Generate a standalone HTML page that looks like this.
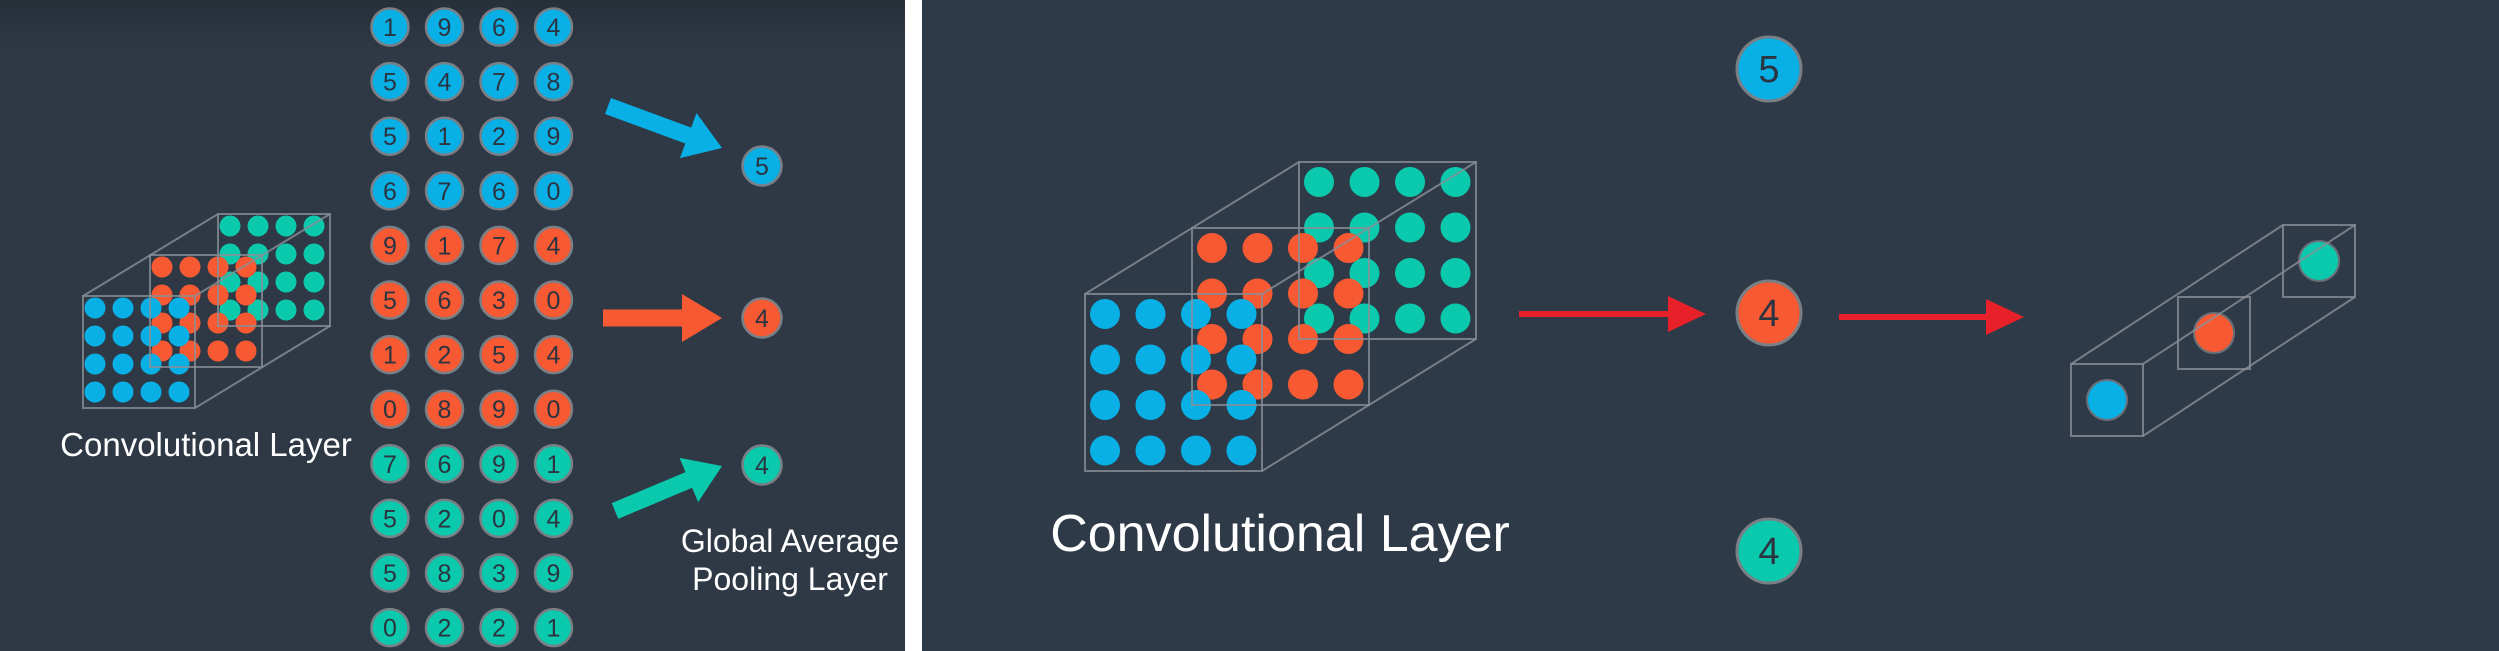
<!DOCTYPE html>
<html><head><meta charset="utf-8">
<style>
html,body{margin:0;padding:0;background:#fff;}
svg{display:block;}
text{font-family:"Liberation Sans","DejaVu Sans",sans-serif;}
</style></head>
<body>
<svg id="s" width="2499" height="651" viewBox="0 0 2499 651">
<defs>
<linearGradient id="lg" x1="0" y1="0" x2="0" y2="1">
<stop offset="0" stop-color="#272f39"/><stop offset="0.08" stop-color="#2e3945"/><stop offset="1" stop-color="#2e3945"/>
</linearGradient>
</defs>
<rect x="0" y="0" width="905" height="651" fill="url(#lg)"/>
<rect x="922" y="0" width="1577" height="651" fill="#2f3a48"/>
<g id="left"></g>
<g id="right"></g>
</svg>
<script>
const gridValues = [
 [1,9,6,4],[5,4,7,8],[5,1,2,9],[6,7,6,0],
 [9,1,7,4],[5,6,3,0],[1,2,5,4],[0,8,9,0],
 [7,6,9,1],[5,2,0,4],[5,8,3,9],[0,2,2,1]
];
const pooledValues = [5,4,4];
const channelColors = ["#08b0e6","#f75a33","#0bc9ad"];
const NS="http://www.w3.org/2000/svg";
function mk(tag, attrs, parent){const e=document.createElementNS(NS,tag);for(const k in attrs)e.setAttribute(k,attrs[k]);parent.appendChild(e);return e;}
const L=document.getElementById('left'), R=document.getElementById('right');

const colX = i => 390 + i*54.5;
const rowY = j => 27 + j*54.6;
gridValues.forEach((row,j)=>{
  row.forEach((v,i)=>{
    const c=mk('circle',{cx:colX(i),cy:rowY(j),r:18.5,fill:channelColors[Math.floor(j/4)],stroke:'#7a7f86','stroke-width':2.5},L);
    
    
    const t=mk('text',{x:colX(i),y:rowY(j)+9,'text-anchor':'middle','font-size':25,fill:'#2b3440'},L);
    t.textContent=v;
    
    
  });
});
const poolY=[166,318,465];
pooledValues.forEach((v,k)=>{
  const c=mk('circle',{cx:762,cy:poolY[k],r:19.5,fill:channelColors[k],stroke:'#7a7f86','stroke-width':2.5},L);
  
  
  const t=mk('text',{x:762,y:poolY[k]+9,'text-anchor':'middle','font-size':25,fill:'#2b3440'},L);
  t.textContent=v;
  
  
});
function fatArrow(x1,y1,x2,y2,w,hw,hl,color,parent,name){
  const a=Math.atan2(y2-y1,x2-x1),len=Math.hypot(x2-x1,y2-y1);
  const g=mk('g',{transform:`translate(${x1},${y1}) rotate(${a*180/Math.PI})`},parent);
  
  
  mk('polygon',{points:`0,${-w/2} ${len-hl},${-w/2} ${len-hl},${-hw} ${len},0 ${len-hl},${hw} ${len-hl},${w/2} 0,${w/2}`,fill:color},g);
}
fatArrow(608,106,722,148,17,24,36,channelColors[0],L,'blue-arrow');
fatArrow(603,318,722,318,17,24,40,channelColors[1],L,'orange-arrow');
fatArrow(615,511,722,466,17,24,36,channelColors[2],L,'teal-arrow');

function cube(parent,faces,dotR,spacing,off,name){
  const g=mk('g',{},parent);
  
  
  for(let f=faces.length-1;f>=0;f--){
    const [fx,fy]=faces[f];
    for(let r=0;r<4;r++)for(let c=0;c<4;c++){
      const d=mk('circle',{cx:fx+off+c*spacing,cy:fy+off+r*spacing,r:dotR,fill:channelColors[f]},g);
      
      
    }
  }
  return g;
}
function boxLines(g,faces,s){
  const st={stroke:'#8a8f96','stroke-width':2,fill:'none',opacity:0.8};
  faces.forEach(([x,y])=>mk('rect',Object.assign({x:x,y:y,width:s,height:s},st),g));
  const [a,b]=[faces[0],faces[faces.length-1]];
  mk('line',Object.assign({x1:a[0],y1:a[1],x2:b[0],y2:b[1]},st),g);
  mk('line',Object.assign({x1:a[0]+s,y1:a[1],x2:b[0]+s,y2:b[1]},st),g);
  mk('line',Object.assign({x1:a[0]+s,y1:a[1]+s,x2:b[0]+s,y2:b[1]+s},st),g);
}
const lf=[[83,296],[150,255],[218,214]];
const lg=cube(L,lf,10.5,28,12,'left-conv-cube');
boxLines(lg,lf,112);
let t=mk('text',{x:206,y:456,'text-anchor':'middle','font-size':33,fill:'#fff'},L);
t.textContent='Convolutional Layer';


t=mk('text',{x:790,y:552,'text-anchor':'middle','font-size':32,fill:'#fff'},L);
t.textContent='Global Average';


t=mk('text',{x:790,y:590,'text-anchor':'middle','font-size':32,fill:'#fff'},L);
t.textContent='Pooling Layer';



const rf=[[1085,294],[1192,228],[1299,162]];
const rg=cube(R,rf,15,45.5,20,'right-conv-cube');
boxLines(rg,rf,177);
t=mk('text',{x:1280,y:551,'text-anchor':'middle','font-size':52,fill:'#fff'},R);
t.textContent='Convolutional Layer';


const rPoolY=[69,313,551];
pooledValues.forEach((v,k)=>{
  const c=mk('circle',{cx:1769,cy:rPoolY[k],r:32,fill:channelColors[k],stroke:'#7a7f86','stroke-width':3},R);
  
  
  const tt=mk('text',{x:1769,y:rPoolY[k]+13,'text-anchor':'middle','font-size':38,fill:'#2b3440'},R);
  tt.textContent=v;
  
  
});
fatArrow(1519,314,1706,314,6,18,38,'#e8202a',R,'red-arrow-1');
fatArrow(1839,317,2024,317,6,18,38,'#e8202a',R,'red-arrow-2');
const of=[[2071,364],[2178,297],[2283,225]];
const og=mk('g',{},R);


of.forEach(([x,y],k)=>{
  const d=mk('circle',{cx:x+36,cy:y+36,r:20,fill:channelColors[k],stroke:'#6a7078','stroke-width':2},og);
  
  
});
boxLines(og,of,72);
</script>
</body></html>
